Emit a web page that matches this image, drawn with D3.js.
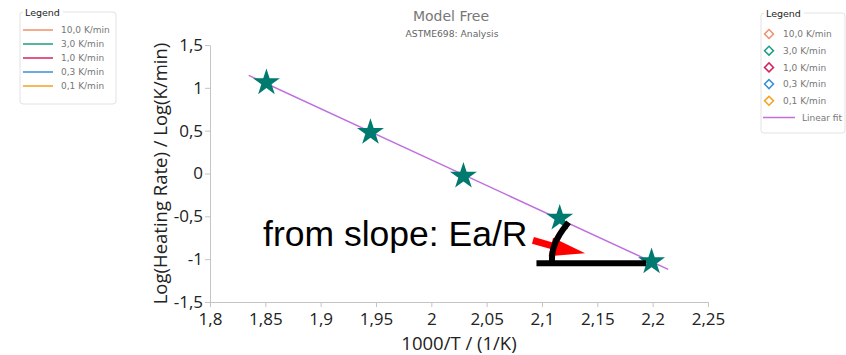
<!DOCTYPE html>
<html>
<head>
<meta charset="utf-8">
<script src="https://cdn.jsdelivr.net/npm/d3@7"></script>
<style>
  body { margin: 0; background: #fff; }
  svg { display: block; }
</style>
</head>
<body>
<svg id="chart"></svg>
<script>
// data
const rates = ["10,0 K/min", "3,0 K/min", "1,0 K/min", "0,3 K/min", "0,1 K/min"];
const rateColors = ["#f28e6b", "#1a9e85", "#d6245a", "#3b8fd9", "#f5a020"];
const invT = [1.851, 1.945, 2.029, 2.116, 2.199];
const logRate = [1.06, 0.48, -0.03, -0.52, -1.03];
const xTicks = [1.8, 1.85, 1.9, 1.95, 2, 2.05, 2.1, 2.15, 2.2, 2.25];
const yTicks = [-1.5, -1, -0.5, 0, 0.5, 1, 1.5];
const fitRange = [1.835, 2.214];

const width = 846, height = 355;
const margin = { left: 210, right: 138, top: 45, bottom: 53 };

const svg = d3.select("#chart").attr("width", width).attr("height", height);

const x = d3.scaleLinear().domain([1.8, 2.25]).range([margin.left, width - margin.right]);
const y = d3.scaleLinear().domain([-1.5, 1.5]).range([height - margin.bottom, margin.top]);

const fmt = d => String(d).replace(".", ",");

// axes
const xAxis = svg.append("g")
  .attr("transform", `translate(0,${height - margin.bottom})`)
  .call(d3.axisBottom(x).tickValues(xTicks).tickFormat(fmt).tickSize(5).tickSizeOuter(0));
const yAxis = svg.append("g")
  .attr("transform", `translate(${margin.left},0)`)
  .call(d3.axisLeft(y).tickValues(yTicks).tickFormat(fmt).tickSize(5).tickSizeOuter(0));

[xAxis, yAxis].forEach(a => {
  a.select(".domain").attr("stroke", "#c4c4c4");
  a.selectAll(".tick line").attr("stroke", "#c4c4c4");
  a.selectAll(".tick text")
    .attr("fill", "#222")
    .style("font-family", "'Open Sans', sans-serif")
    .style("font-size", "17px");
});
xAxis.selectAll(".tick text").attr("dy", "0.9em");
yAxis.selectAll(".tick text").attr("x", -7);

svg.append("text")
  .attr("x", (margin.left + width - margin.right) / 2)
  .attr("y", 350)
  .attr("text-anchor", "middle")
  .attr("fill", "#222")
  .style("font-family", "'Open Sans', sans-serif")
  .style("font-size", "18.5px")
  .text("1000/T / (1/K)");

svg.append("text")
  .attr("transform", `translate(167,${(margin.top + height - margin.bottom) / 2}) rotate(-90)`)
  .attr("text-anchor", "middle")
  .attr("fill", "#222")
  .style("font-family", "'Open Sans', sans-serif")
  .style("font-size", "18.5px")
  .text("Log(Heating Rate) / Log(K/min)");

// titles
svg.append("text")
  .attr("x", 451).attr("y", 21)
  .attr("text-anchor", "middle")
  .attr("fill", "#777")
  .style("font-family", "'DejaVu Sans', sans-serif")
  .style("font-size", "14px")
  .text("Model Free");
svg.append("text")
  .attr("x", 452).attr("y", 37)
  .attr("text-anchor", "middle")
  .attr("fill", "#666")
  .style("font-family", "'DejaVu Sans', sans-serif")
  .style("font-size", "9.2px")
  .text("ASTME698: Analysis");

// least squares fit through the points
const mx = d3.mean(invT), my = d3.mean(logRate);
const slope = d3.sum(invT, (v, i) => (v - mx) * (logRate[i] - my)) / d3.sum(invT, v => (v - mx) ** 2);
const icpt = my - slope * mx;

svg.append("path")
  .attr("fill", "none")
  .attr("stroke", "#c070dd")
  .attr("stroke-width", 1.5)
  .attr("d", d3.line().x(d => x(d)).y(d => y(slope * d + icpt))(fitRange));

// stars
svg.selectAll(".pt")
  .data(invT)
  .enter()
  .append("path")
  .attr("class", "pt")
  .attr("transform", (d, i) => `translate(${x(d)},${y(logRate[i])})`)
  .attr("d", d3.symbol(d3.symbolStar, 225))
  .attr("fill", "#007a6e");

// slope annotation (drawn in data units)
const ann = svg.append("g");
ann.append("text")
  .attr("x", x(1.848)).attr("y", y(-0.845))
  .attr("fill", "#000")
  .style("font-family", "'Liberation Sans', Arial, sans-serif")
  .style("font-size", "35.5px")
  .text("from slope: Ea/R");

ann.append("line")
  .attr("x1", x(2.0918)).attr("y1", y(-0.78))
  .attr("x2", x(2.112)).attr("y2", y(-0.855))
  .attr("stroke", "#ff0000").attr("stroke-width", 7);
ann.append("path")
  .attr("fill", "#ff0000")
  .attr("d", d3.line()([[x(2.110), y(-0.75)], [x(2.139), y(-0.93)], [x(2.106), y(-0.965)]]));

ann.append("path")
  .attr("fill", "none")
  .attr("stroke", "#000")
  .attr("stroke-width", 6)
  .attr("d", d3.line().curve(d3.curveBasis)(
    [[2.109, -1.045], [2.109, -0.88], [2.116, -0.70], [2.124, -0.57]].map(p => [x(p[0]), y(p[1])])));
ann.append("line")
  .attr("x1", x(2.095)).attr("y1", y(-1.047))
  .attr("x2", x(2.194)).attr("y2", y(-1.047))
  .attr("stroke", "#000").attr("stroke-width", 6);

// legends
function legendBox(x0, y0, w, h) {
  const g = svg.append("g").attr("transform", `translate(${x0},${y0})`);
  g.append("rect").attr("width", w).attr("height", h).attr("rx", 3)
    .attr("fill", "none").attr("stroke", "#e2e2e2");
  g.append("rect").attr("x", 3).attr("y", -5).attr("width", 40).attr("height", 10).attr("fill", "#fff");
  g.append("text").attr("x", 5).attr("y", 3.5)
    .attr("fill", "#222")
    .style("font-family", "'DejaVu Sans', sans-serif").style("font-size", "9.5px")
    .text("Legend");
  return g;
}
const lgText = sel => sel.attr("fill", "#777")
  .style("font-family", "'DejaVu Sans', sans-serif").style("font-size", "9px");

const left = legendBox(20, 12, 96, 92);
rates.forEach((r, i) => {
  left.append("line").attr("x1", 3).attr("x2", 33).attr("y1", 18 + i * 14).attr("y2", 18 + i * 14)
    .attr("stroke", rateColors[i]).attr("stroke-width", 1.5);
  left.append("text").attr("x", 41).attr("y", 18 + i * 14).attr("dy", "0.35em").call(lgText).text(r);
});

const right = legendBox(761, 13, 84, 120);
rates.forEach((r, i) => {
  const cy = 21 + i * 16.7;
  right.append("path")
    .attr("transform", `translate(8,${cy}) rotate(45)`)
    .attr("d", d3.symbol(d3.symbolSquare, 40))
    .attr("fill", "#fff").attr("stroke", rateColors[i]).attr("stroke-width", 1.5);
  right.append("text").attr("x", 22).attr("y", cy).attr("dy", "0.35em").call(lgText).text(r);
});
right.append("line").attr("x1", 2).attr("x2", 34).attr("y1", 104.5).attr("y2", 104.5)
  .attr("stroke", "#c070dd").attr("stroke-width", 1.5);
right.append("text").attr("x", 41).attr("y", 104.5).attr("dy", "0.35em").call(lgText).text("Linear fit");
</script>
</body>
</html>
